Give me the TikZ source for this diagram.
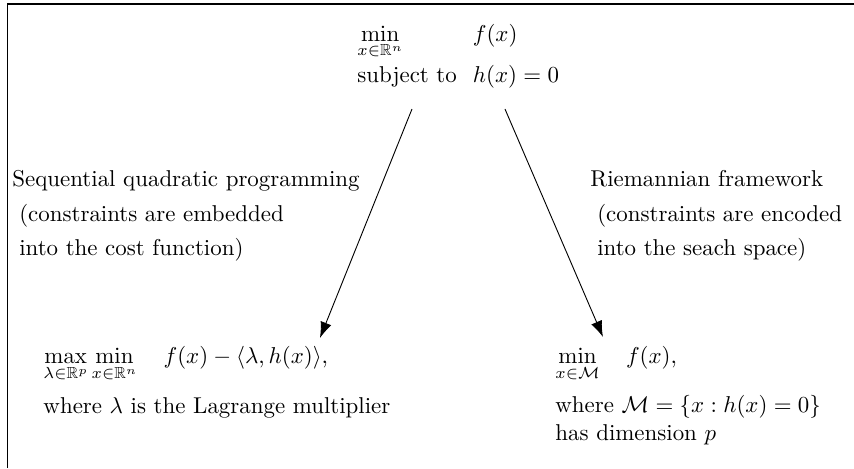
\documentclass[tikz,border=0pt]{standalone}
\usepackage{amsmath,amssymb}
\usetikzlibrary{arrows.meta}
\tikzset{
    formula/.style={inner sep=0pt, anchor=base west},
    method/.style={inner sep=0pt, anchor=north west, align=left},
    route/.style={-{Latex[length=7pt,width=5pt]}},
    frame/.style={line width=0.8pt},
}

\begin{document}
\begin{tikzpicture}
    \useasboundingbox (0,0) rectangle (13.10,-7.18);
    \draw[frame] (0.115,-7.18) -- (0.115,-0.06) -- (13.10,-0.06);

    \node[formula] (problem) at (5.476,-0.63) {$\begin{array}[t]{@{}l@{\hspace{7pt}}l@{}}
        \min\limits_{x\in\mathbb{R}^n} & f(x)\\ \noalign{\vskip 1.8pt}
        \text{subject to} & h(x)=0
    \end{array}$};

    \node[method] (sqp) at (0.184,-2.61) {Sequential quadratic programming\\[3pt]
        \hspace*{3pt}(constraints are embedded\\[3pt]
        \hspace*{3pt}into the cost function)};
    \node[method] (riem) at (9.050,-2.61) {Riemannian framework\\[3pt]
        \hspace*{3pt}(constraints are encoded\\[3pt]
        \hspace*{3pt}into the seach space)};

    \node[formula] (lagrange) at (0.66,-5.583) {$\begin{array}[t]{@{}l@{\hspace{11.5pt}}l@{}}
        \max\limits_{\lambda\in\mathbb{R}^p}\min\limits_{x\in\mathbb{R}^n} & f(x)-\langle\lambda,h(x)\rangle,\\ \noalign{\vskip 5pt}
        \multicolumn{2}{@{}l@{}}{\text{where $\lambda$ is the Lagrange multiplier}}
    \end{array}$};
    \node[formula] (manifold) at (8.513,-5.583) {$\begin{array}[t]{@{}l@{\hspace{11.5pt}}l@{}}
        \min\limits_{x\in\mathcal{M}} & f(x),\\ \noalign{\vskip 5pt}
        \multicolumn{2}{@{}l@{}}{\text{where $\mathcal{M}=\{x:h(x)=0\}$}}\\
        \multicolumn{2}{@{}l@{}}{\text{has dimension $p$}}
    \end{array}$};

    % arrows leave below the problem and stop above the reformulations
    \coordinate (sqp-from) at (6.320,-1.672);
    \coordinate (sqp-to) at (4.908,-5.185);
    \coordinate (riem-from) at (7.746,-1.672);
    \coordinate (riem-to) at (9.249,-5.169);
    \draw[route] (sqp-from) -- (sqp-to);
    \draw[route] (riem-from) -- (riem-to);
\end{tikzpicture}
\end{document}
